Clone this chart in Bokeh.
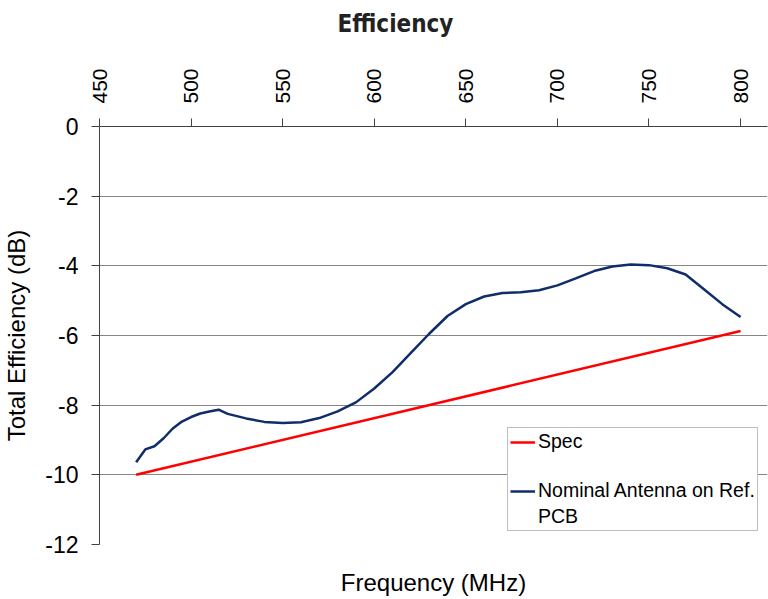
import math
from bokeh.plotting import figure
from bokeh.models import LinearAxis, FixedTicker, Legend, LegendItem, CustomJSTickFormatter
from bokeh.embed import file_html
from bokeh.resources import INLINE

# ---- data ----
spec_freq = [470, 800]
spec_eff = [-10.0, -5.87]

nominal_freq = [470, 475, 480, 485, 490, 495, 500, 505, 510, 515, 520, 530, 540, 550,
                560, 570, 580, 590, 600, 610, 620, 630, 640, 650, 660, 670, 680, 690,
                700, 710, 720, 730, 740, 750, 760, 770, 780, 790, 800]
nominal_eff = [-9.64, -9.27, -9.18, -8.95, -8.67, -8.47, -8.34, -8.24, -8.18, -8.13,
               -8.25, -8.38, -8.48, -8.51, -8.49, -8.37, -8.18, -7.92, -7.52, -7.05,
               -6.50, -5.95, -5.44, -5.10, -4.88, -4.78, -4.76, -4.70, -4.56, -4.36,
               -4.15, -4.02, -3.96, -3.98, -4.07, -4.25, -4.67, -5.10, -5.47]

x_ticks = [450, 500, 550, 600, 650, 700, 750, 800]
y_ticks = [-12, -10, -8, -6, -4, -2, 0]

FONT = "Liberation Sans"

p = figure(width=768, height=599, x_range=(450, 814.7), y_range=(-12, 0),
           x_axis_location="above", output_backend="svg", toolbar_location=None,
           title="Efficiency")
p.min_border_right = 1
p.min_border_top = 126
p.min_border_bottom = 55
p.min_border_left = 0
p.outline_line_color = None
p.background_fill_color = "white"

p.title.align = "left"
p.title.offset = 238
p.title.text_font = "Liberation Sans Narrow, DejaVu Sans Condensed, sans-serif"
p.title.text_font_style = "bold"
p.title.text_font_size = "24px"
p.title.text_color = "#222222"
p.title.standoff = 14

xa = p.xaxis[0]
xa.ticker = FixedTicker(ticks=x_ticks)
xa.formatter = CustomJSTickFormatter(code="return tick.toFixed(0);")
xa.major_label_orientation = math.pi / 2
xa.major_label_text_font = FONT
xa.major_label_text_font_size = "21px"
xa.major_label_text_color = "black"
xa.major_tick_in = 0
xa.major_tick_out = 8
xa.minor_tick_line_color = None
xa.axis_line_color = "#404040"
xa.major_tick_line_color = "#404040"
xa.major_label_standoff = 15
xa.axis_label = " "
xa.axis_label_text_font_size = "12px"
xa.axis_label_standoff = 4

ya = p.yaxis[0]
ya.ticker = FixedTicker(ticks=y_ticks)
ya.formatter = CustomJSTickFormatter(code="return tick.toFixed(0);")
ya.major_label_text_font = FONT
ya.major_label_text_font_size = "23px"
ya.major_label_text_color = "black"
ya.major_tick_in = 0
ya.major_tick_out = 8
ya.minor_tick_line_color = None
ya.axis_line_color = "#404040"
ya.major_tick_line_color = "#404040"
ya.major_label_standoff = 13
ya.axis_label = "Total Efficiency (dB)"
ya.axis_label_text_font = FONT
ya.axis_label_text_font_size = "24px"
ya.axis_label_text_font_style = "normal"
ya.axis_label_text_color = "black"
ya.axis_label_standoff = 12

bottom = LinearAxis(ticker=FixedTicker(ticks=[]), axis_label="Frequency (MHz)")
bottom.axis_line_color = None
bottom.major_tick_out = 0
bottom.major_tick_in = 0
bottom.major_label_text_font_size = "0px"
bottom.major_label_standoff = 0
bottom.axis_label_text_font = FONT
bottom.axis_label_text_font_size = "24px"
bottom.axis_label_text_font_style = "normal"
bottom.axis_label_text_color = "black"
bottom.axis_label_standoff = 24
p.add_layout(bottom, "below")

p.xgrid.grid_line_color = None
p.ygrid.grid_line_color = "#868686"
p.ygrid.grid_line_width = 1

r_spec = p.line(spec_freq, spec_eff, line_color="#FF0000", line_width=2.5)
r_nom = p.line(nominal_freq, nominal_eff, line_color="#0F2C6B", line_width=2.5)

legend = Legend(items=[
    LegendItem(label="Spec", renderers=[r_spec]),
    LegendItem(label=" ", renderers=[]),
    LegendItem(label="Nominal Antenna on Ref.", renderers=[r_nom]),
    LegendItem(label="PCB", renderers=[]),
], location=(408, 13))
legend.label_text_font = FONT
legend.label_text_font_size = "19.5px"
legend.label_text_color = "black"
legend.label_standoff = 3
legend.glyph_width = 25
legend.glyph_height = 20
legend.label_height = 20
legend.spacing = 3
legend.padding = 2
legend.margin = 0
legend.border_line_color = "#808080"
legend.border_line_width = 1
legend.background_fill_alpha = 1
p.add_layout(legend, "center")

open("out.html", "w").write(file_html(p, INLINE))
